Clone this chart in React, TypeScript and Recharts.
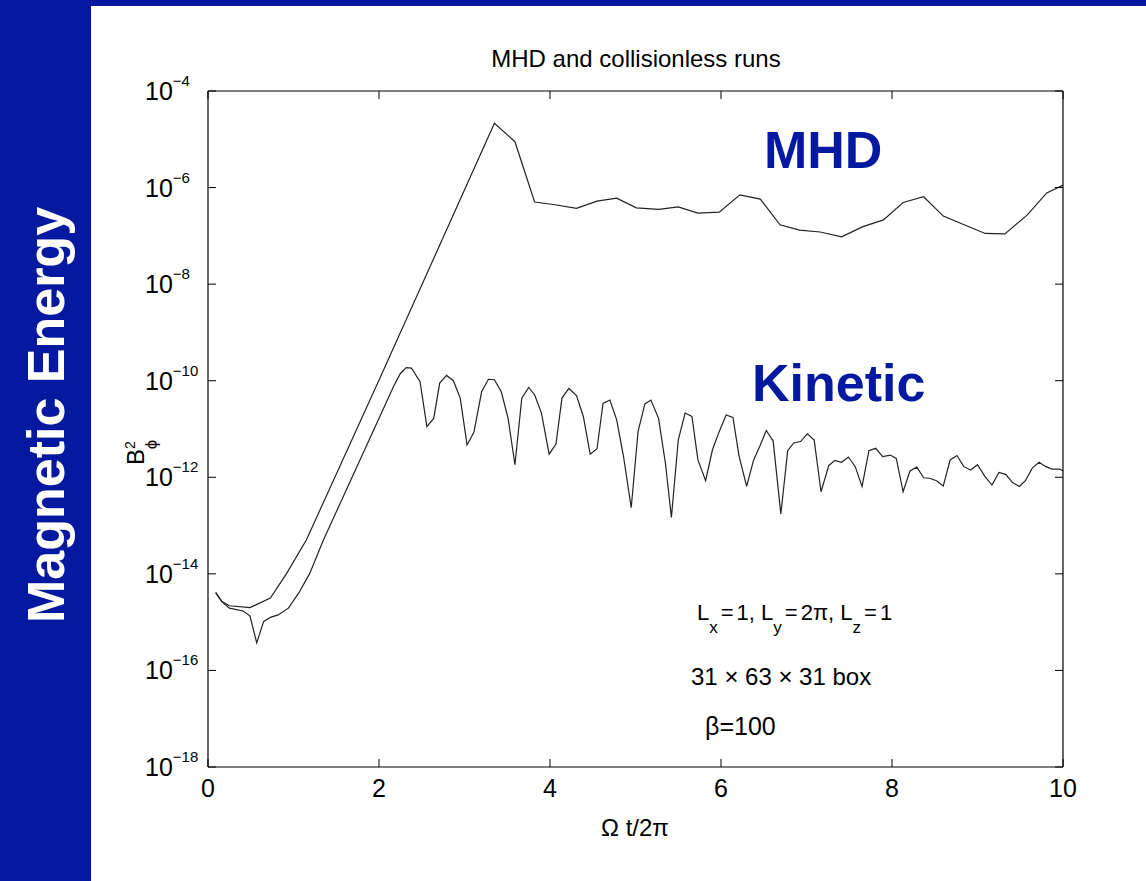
import React from 'react';
import { LineChart, Line, XAxis, YAxis } from 'recharts';

// MHD run: time (Omega t / 2pi) and log10 of B_phi^2
const mhdT = [0.09, 0.16, 0.25, 0.49, 0.73, 0.92, 1.15, 2.01, 3.35, 3.59, 3.82, 4.04, 4.31, 4.55, 4.78, 5.01, 5.27, 5.5, 5.73, 5.98, 6.22, 6.46, 6.69, 6.92, 7.16, 7.41, 7.66, 7.9, 8.13, 8.37, 8.6, 8.83, 9.09, 9.32, 9.58, 9.81, 10.0];
const mhdExp = [-14.39, -14.57, -14.66, -14.7, -14.5, -13.99, -13.3, -9.95, -4.67, -5.05, -6.3, -6.35, -6.43, -6.28, -6.22, -6.42, -6.45, -6.4, -6.53, -6.51, -6.15, -6.24, -6.77, -6.88, -6.92, -7.02, -6.81, -6.67, -6.31, -6.19, -6.59, -6.76, -6.95, -6.96, -6.57, -6.11, -5.95];

// collisionless (kinetic) run
const kinT = [0.09, 0.16, 0.25, 0.41, 0.49, 0.57, 0.65, 0.73, 0.82, 0.94, 1.06, 1.19, 1.35, 2.17, 2.25, 2.32, 2.38, 2.48, 2.56, 2.64, 2.71, 2.79, 2.87, 2.95, 3.03, 3.11, 3.2, 3.28, 3.35, 3.43, 3.51, 3.59, 3.67, 3.75, 3.82, 3.9, 3.99, 4.07, 4.14, 4.22, 4.31, 4.39, 4.47, 4.55, 4.62, 4.7, 4.78, 4.86, 4.95, 5.03, 5.11, 5.18, 5.27, 5.35, 5.42, 5.5, 5.58, 5.66, 5.73, 5.82, 5.9, 5.98, 6.06, 6.14, 6.21, 6.3, 6.38, 6.46, 6.53, 6.61, 6.7, 6.78, 6.85, 6.93, 7.01, 7.09, 7.17, 7.26, 7.33, 7.41, 7.49, 7.57, 7.65, 7.73, 7.81, 7.89, 7.98, 8.05, 8.13, 8.21, 8.29, 8.37, 8.44, 8.52, 8.6, 8.68, 8.76, 8.84, 8.92, 9.0, 9.09, 9.17, 9.25, 9.33, 9.41, 9.49, 9.56, 9.64, 9.72, 9.8, 9.87, 9.96, 10.0];
const kinExp = [-14.39, -14.57, -14.71, -14.77, -14.87, -15.43, -14.99, -14.9, -14.85, -14.71, -14.4, -13.99, -13.3, -10.12, -9.85, -9.73, -9.74, -10.02, -10.95, -10.78, -10.05, -9.89, -10.0, -10.36, -11.33, -11.07, -10.23, -9.97, -9.98, -10.23, -10.78, -11.74, -10.36, -10.14, -10.29, -10.67, -11.52, -11.31, -10.36, -10.16, -10.31, -10.74, -11.52, -11.41, -10.47, -10.4, -10.81, -11.57, -12.63, -11.05, -10.48, -10.4, -10.78, -11.71, -12.83, -11.23, -10.67, -10.74, -11.64, -12.07, -11.43, -11.05, -10.71, -10.76, -11.55, -12.19, -11.65, -11.33, -11.03, -11.25, -12.76, -11.45, -11.29, -11.26, -11.1, -11.23, -12.3, -11.76, -11.65, -11.69, -11.58, -11.78, -12.19, -11.45, -11.4, -11.57, -11.54, -11.61, -12.3, -11.87, -11.79, -12.01, -12.02, -12.07, -12.18, -11.64, -11.55, -11.78, -11.85, -11.74, -11.99, -12.16, -11.9, -11.94, -12.11, -12.19, -12.07, -11.81, -11.69, -11.78, -11.83, -11.83, -11.87];

const xTicks = [0, 2, 4, 6, 8, 10];
const yTicks = [1e-18, 1e-16, 1e-14, 1e-12, 1e-10, 1e-8, 1e-6, 1e-4];

const mhdData = mhdT.map((t, i) => ({ t, b: Math.pow(10, mhdExp[i]) }));
const kinData = kinT.map((t, i) => ({ t, b: Math.pow(10, kinExp[i]) }));

const BLUE = '#0519a0';
const FONT = '"Liberation Sans", Arial, Helvetica, sans-serif';
const TICK = 8;

const BottomTick = (props: any) => {
  const { x, y, payload } = props;
  return (
    <g>
      <line x1={x} y1={y} x2={x} y2={y - TICK} stroke="#000" strokeWidth={1} />
      <text x={x} y={y + 30} textAnchor="middle" fontSize={25} fontFamily={FONT} fill="#000">{payload.value}</text>
    </g>
  );
};

const TopTick = (props: any) => {
  const { x, y } = props;
  return <line x1={x} y1={y} x2={x} y2={y + TICK} stroke="#000" strokeWidth={1} />;
};

const LeftTick = (props: any) => {
  const { x, y, payload } = props;
  const n = Math.round(Math.log10(payload.value));
  return (
    <g>
      <line x1={x} y1={y} x2={x + TICK} y2={y} stroke="#000" strokeWidth={1} />
      <text x={x - 63} y={y + 9} fontSize={25} fontFamily={FONT} fill="#000">
        10<tspan dy={-14} fontSize={15}>{'\u2212' + Math.abs(n)}</tspan>
      </text>
    </g>
  );
};

const RightTick = (props: any) => {
  const { x, y } = props;
  return <line x1={x} y1={y} x2={x - TICK} y2={y} stroke="#000" strokeWidth={1} />;
};

export default function App() {
  return (
    <div style={{ position: 'fixed', left: 0, top: 0, width: 1146, height: 881, background: '#fff', overflow: 'hidden' }}>
      <div style={{ position: 'absolute', left: 0, top: 0, width: 1146, height: 6, background: BLUE }} />
      <div style={{ position: 'absolute', left: 0, top: 0, width: 91, height: 881, background: BLUE }} />

      <div style={{ position: 'absolute', left: 0, top: 0 }}>
        <LineChart width={1146} height={881} margin={{ top: 90, right: 82, bottom: 54, left: 108 }}>
          <XAxis xAxisId="b" type="number" dataKey="t" domain={[0, 10]} ticks={xTicks} allowDataOverflow
            orientation="bottom" height={60} tickSize={0} tickMargin={0} tickLine={false}
            axisLine={{ stroke: '#000', strokeWidth: 1.2 }} tick={<BottomTick />} interval={0} />
          <XAxis xAxisId="t" type="number" dataKey="t" domain={[0, 10]} ticks={xTicks} allowDataOverflow
            orientation="top" height={1} tickSize={0} tickMargin={0} tickLine={false}
            axisLine={{ stroke: '#000', strokeWidth: 1.2 }} tick={<TopTick />} interval={0} />
          <YAxis yAxisId="l" type="number" scale="log" domain={[1e-18, 1e-4]} ticks={yTicks} allowDataOverflow
            orientation="left" width={100} tickSize={0} tickMargin={0} tickLine={false}
            axisLine={{ stroke: '#000', strokeWidth: 1.2 }} tick={<LeftTick />} interval={0} />
          <YAxis yAxisId="r" type="number" scale="log" domain={[1e-18, 1e-4]} ticks={yTicks} allowDataOverflow
            orientation="right" width={1} tickSize={0} tickMargin={0} tickLine={false}
            axisLine={{ stroke: '#000', strokeWidth: 1.2 }} tick={<RightTick />} interval={0} />
          <Line xAxisId="b" yAxisId="l" data={mhdData} dataKey="b" type="linear" stroke="#222"
            strokeWidth={1.2} dot={false} isAnimationActive={false} />
          <Line xAxisId="b" yAxisId="l" data={kinData} dataKey="b" type="linear" stroke="#222"
            strokeWidth={1.2} dot={false} isAnimationActive={false} />
        </LineChart>
      </div>

      <svg width={1146} height={881} style={{ position: 'absolute', left: 0, top: 0, pointerEvents: 'none' }}>
        <text transform="translate(64,415) rotate(-90)" textAnchor="middle" fontSize={52} fontWeight="bold"
          fontFamily={FONT} fill="#fff">Magnetic Energy</text>

        <text x={636} y={67} textAnchor="middle" fontSize={24} fontFamily={FONT} fill="#000">MHD and collisionless runs</text>

        <text x={635} y={836} textAnchor="middle" fontSize={24} fontFamily={FONT} fill="#000">{'\u03A9 t/2\u03C0'}</text>

        <text transform="translate(144,465) rotate(-90)" fontSize={24} fontFamily={FONT} fill="#000">
          B<tspan dy={-9} fontSize={14}>2</tspan><tspan dx={-8} dy={22} fontSize={17}>{'\u03D5'}</tspan>
        </text>

        <text x={764} y={168} fontSize={52} fontWeight="bold" fontFamily={FONT} fill={BLUE}>MHD</text>
        <text x={752} y={401} fontSize={52} fontWeight="bold" fontFamily={FONT} fill={BLUE}>Kinetic</text>

        <text x={697} y={620} fontSize={22} fontFamily={FONT} fill="#000">
          L<tspan dy={13} fontSize={17}>x</tspan><tspan dy={-13} dx={3}>=</tspan><tspan dx={3}>1, L</tspan>
          <tspan dy={13} fontSize={17}>y</tspan><tspan dy={-13} dx={3}>=</tspan><tspan dx={3}>2{'\u03C0'}, L</tspan>
          <tspan dy={13} fontSize={17}>z</tspan><tspan dy={-13} dx={3}>=</tspan><tspan dx={3}>1</tspan>
        </text>
        <text x={691} y={685} fontSize={24} fontFamily={FONT} fill="#000">
          31 {'\u00D7'} 63 {'\u00D7'} 31 box
        </text>
        <text x={705} y={735} fontSize={25} fontFamily={FONT} fill="#000">{'\u03B2'}=100</text>
      </svg>
    </div>
  );
}
